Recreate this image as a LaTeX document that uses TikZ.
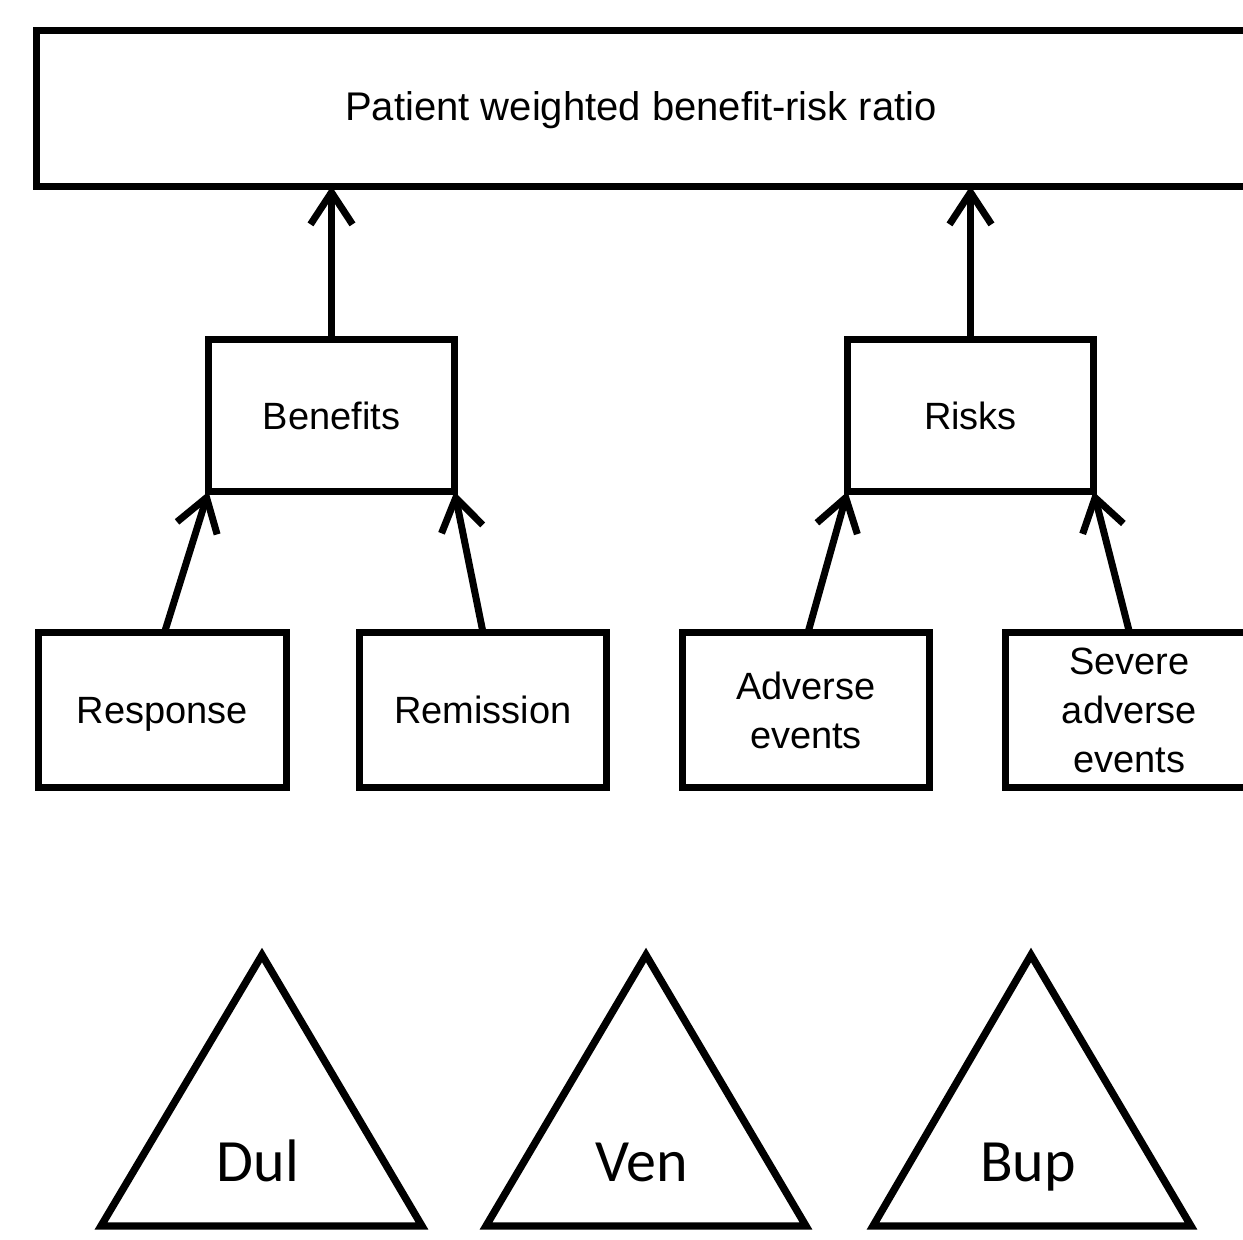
\documentclass[tikz,border=0pt]{standalone}
\usepackage{fontspec}
\setmainfont{Liberation Sans}
\newfontfamily\trifont{Carlito}
\usetikzlibrary{arrows.meta}
\begin{document}
\begin{tikzpicture}[x=0.5pt,y=-0.5pt,
  box/.style={draw,line width=3.5pt,inner sep=0pt,outer sep=0pt,align=center,
    font=\fontsize{19}{24.5}\selectfont},
  oneline/.style={text height=13.7pt,text depth=0pt},
  conn/.style={line width=3.5pt,-{Straight Barb[length=16pt,width=21pt,line width=3.5pt]}},
  tri/.style={draw,line width=3.7pt,line join=miter},
  trilabel/.style={font=\trifont\fontsize{30}{36}\selectfont,inner sep=0pt,text height=19.3pt,text depth=0pt}]
\useasboundingbox (0,0) rectangle (1243,1239);
\clip (0,0) rectangle (1243,1239);
\node[box,minimum width=607pt,minimum height=78pt] (top) at (643,108) {};
\node[font=\fontsize{20}{24}\selectfont,inner sep=0pt,text height=14.4pt,text depth=0pt] (toptext) at (641,106) {Patient weighted benefit-risk ratio};
\node[box,oneline,minimum width=123pt,minimum height=76pt] (ben) at (331.5,415.5) {Benefits};
\node[box,oneline,minimum width=123pt,minimum height=76pt] (risk) at (970.5,415.5) {Risks};
\node[box,oneline,minimum width=124pt,minimum height=77.5pt] (resp) at (162.5,710) {Response};
\node[box,oneline,minimum width=123.5pt,minimum height=77.5pt] (rem) at (483,710) {Remission};
\node[box,minimum width=123.5pt,minimum height=77.5pt] (ae) at (806,710) {Adverse\\events};
\node[box,minimum width=124pt,minimum height=77.5pt] (sae) at (1129.5,710) {Severe\\adverse\\events};
\draw[conn] (ben.north) -- (ben.north |- top.south);
\draw[conn] (risk.north) -- (risk.north |- top.south);
\draw[conn] ([xshift=1pt]resp.north) -- (ben.south west);
\draw[conn] (rem.north) -- (ben.south east);
\draw[conn] ([xshift=1pt]ae.north) -- (risk.south west);
\draw[conn] (sae.north) -- (risk.south east);
\draw[tri] (262,955) -- (422,1226) -- (101,1226) -- cycle;
\draw[tri] (646,955) -- (806,1226) -- (486,1226) -- cycle;
\draw[tri] (1031,955) -- (1191,1226) -- (873,1226) -- cycle;
\node[trilabel] (dul) at (258,1162) {Dul};
\node[trilabel] (ven) at (642,1162) {Ven};
\node[trilabel] (bup) at (1028,1162) {Bup};
\end{tikzpicture}
\end{document}
